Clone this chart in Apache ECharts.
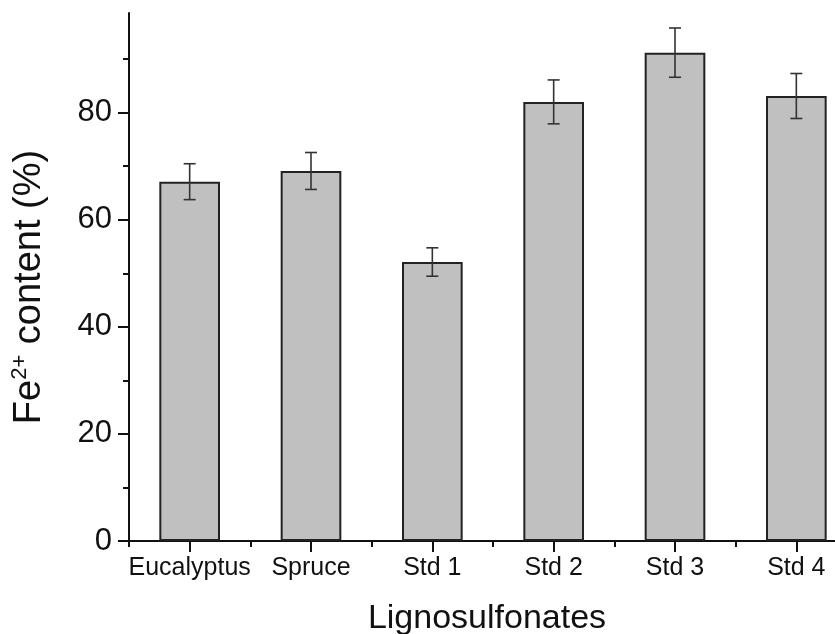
<!DOCTYPE html>
<html>
<head>
<meta charset="utf-8">
<script src="https://cdn.jsdelivr.net/npm/echarts@6/dist/echarts.min.js"></script>
<style>
  html, body { margin: 0; padding: 0; background: #fff; overflow: hidden; width: 835px; height: 634px; }
  #chart { width: 860px; height: 634px; }
</style>
</head>
<body>
<div id="chart"></div>
<script>
const categories = ['Eucalyptus', 'Spruce', 'Std 1', 'Std 2', 'Std 3', 'Std 4'];
const values = [67.1, 69.1, 52.1, 82.0, 91.2, 83.1];
const errors = [3.35, 3.45, 2.65, 4.1, 4.6, 4.2];
const yMajorTicks = [0, 20, 40, 60, 80];
const yMinorTicks = [10, 30, 50, 70, 90];
const yMax = 98.6;

const FONT = 'Liberation Sans, Arial, sans-serif';
const errData = values.map((v, i) => [i, v - errors[i], v + errors[i]]);

const chart = echarts.init(document.getElementById('chart'), null, { renderer: 'canvas' });
chart.setOption({
  backgroundColor: '#fff',
  animation: false,
  grid: { left: 129, top: 13, width: 728, height: 528, containLabel: false, outerBoundsMode: 'none' },
  xAxis: [
    {
      type: 'category', data: categories, position: 'bottom',
      axisLine: { show: true, lineStyle: { color: '#111', width: 2 } },
      axisTick: { show: true, alignWithLabel: true, length: 11, lineStyle: { color: '#111', width: 2 } },
      axisLabel: { show: true, interval: 0, color: '#111', fontFamily: FONT, fontSize: 25, margin: 15 },
      splitLine: { show: false },
      name: 'Lignosulfonates', nameLocation: 'middle', nameGap: 61,
      nameTextStyle: { color: '#111', fontFamily: FONT, fontSize: 34, padding: [0, 12, 0, 0] }
    },
    {
      type: 'category', data: categories, position: 'bottom',
      axisLine: { show: false },
      axisTick: { show: true, alignWithLabel: false, interval: 0, length: 6, lineStyle: { color: '#111', width: 2 } },
      axisLabel: { show: false },
      splitLine: { show: false }
    }
  ],
  yAxis: [
    {
      type: 'value', min: 0, max: yMax, position: 'left',
      axisLine: { show: true, lineStyle: { color: '#111', width: 2 } },
      axisTick: { show: true, length: 11, customValues: yMajorTicks, lineStyle: { color: '#111', width: 2 } },
      axisLabel: { show: true, customValues: yMajorTicks, color: '#111', fontFamily: FONT, fontSize: 31, margin: 17 },
      splitLine: { show: false },
      name: '{m|Fe}{s|2+}{m| content (%)}', nameLocation: 'middle', nameGap: 78,
      nameTextStyle: {
        color: '#111', fontFamily: FONT, fontSize: 38, padding: [0, 20, 0, 0],
        rich: {
          m: { fontFamily: FONT, fontSize: 38, color: '#111', lineHeight: 42 },
          s: { fontFamily: FONT, fontSize: 22, color: '#111', verticalAlign: 'top', lineHeight: 22 }
        }
      }
    },
    {
      type: 'value', min: 0, max: yMax, position: 'left',
      axisLine: { show: false },
      axisTick: { show: true, length: 6, customValues: yMinorTicks, lineStyle: { color: '#111', width: 2 } },
      axisLabel: { show: false },
      splitLine: { show: false }
    }
  ],
  series: [
    {
      type: 'bar', data: values, xAxisIndex: 0, yAxisIndex: 0,
      barWidth: '50%',
      itemStyle: { color: '#c0c0c0', borderColor: '#222', borderWidth: 2 },
      z: 2
    },
    {
      type: 'custom', data: errData, xAxisIndex: 0, yAxisIndex: 0, z: 3,
      renderItem: function (params, api) {
        const i = api.value(0);
        const lo = api.coord([i, api.value(1)]);
        const hi = api.coord([i, api.value(2)]);
        const hw = 6;
        const style = { stroke: '#333', lineWidth: 1.6 };
        return {
          type: 'group',
          children: [
            { type: 'line', shape: { x1: lo[0], y1: lo[1], x2: hi[0], y2: hi[1] }, style: style },
            { type: 'line', shape: { x1: hi[0] - hw, y1: hi[1], x2: hi[0] + hw, y2: hi[1] }, style: style },
            { type: 'line', shape: { x1: lo[0] - hw, y1: lo[1], x2: lo[0] + hw, y2: lo[1] }, style: style }
          ]
        };
      }
    }
  ]
});
</script>
</body>
</html>
